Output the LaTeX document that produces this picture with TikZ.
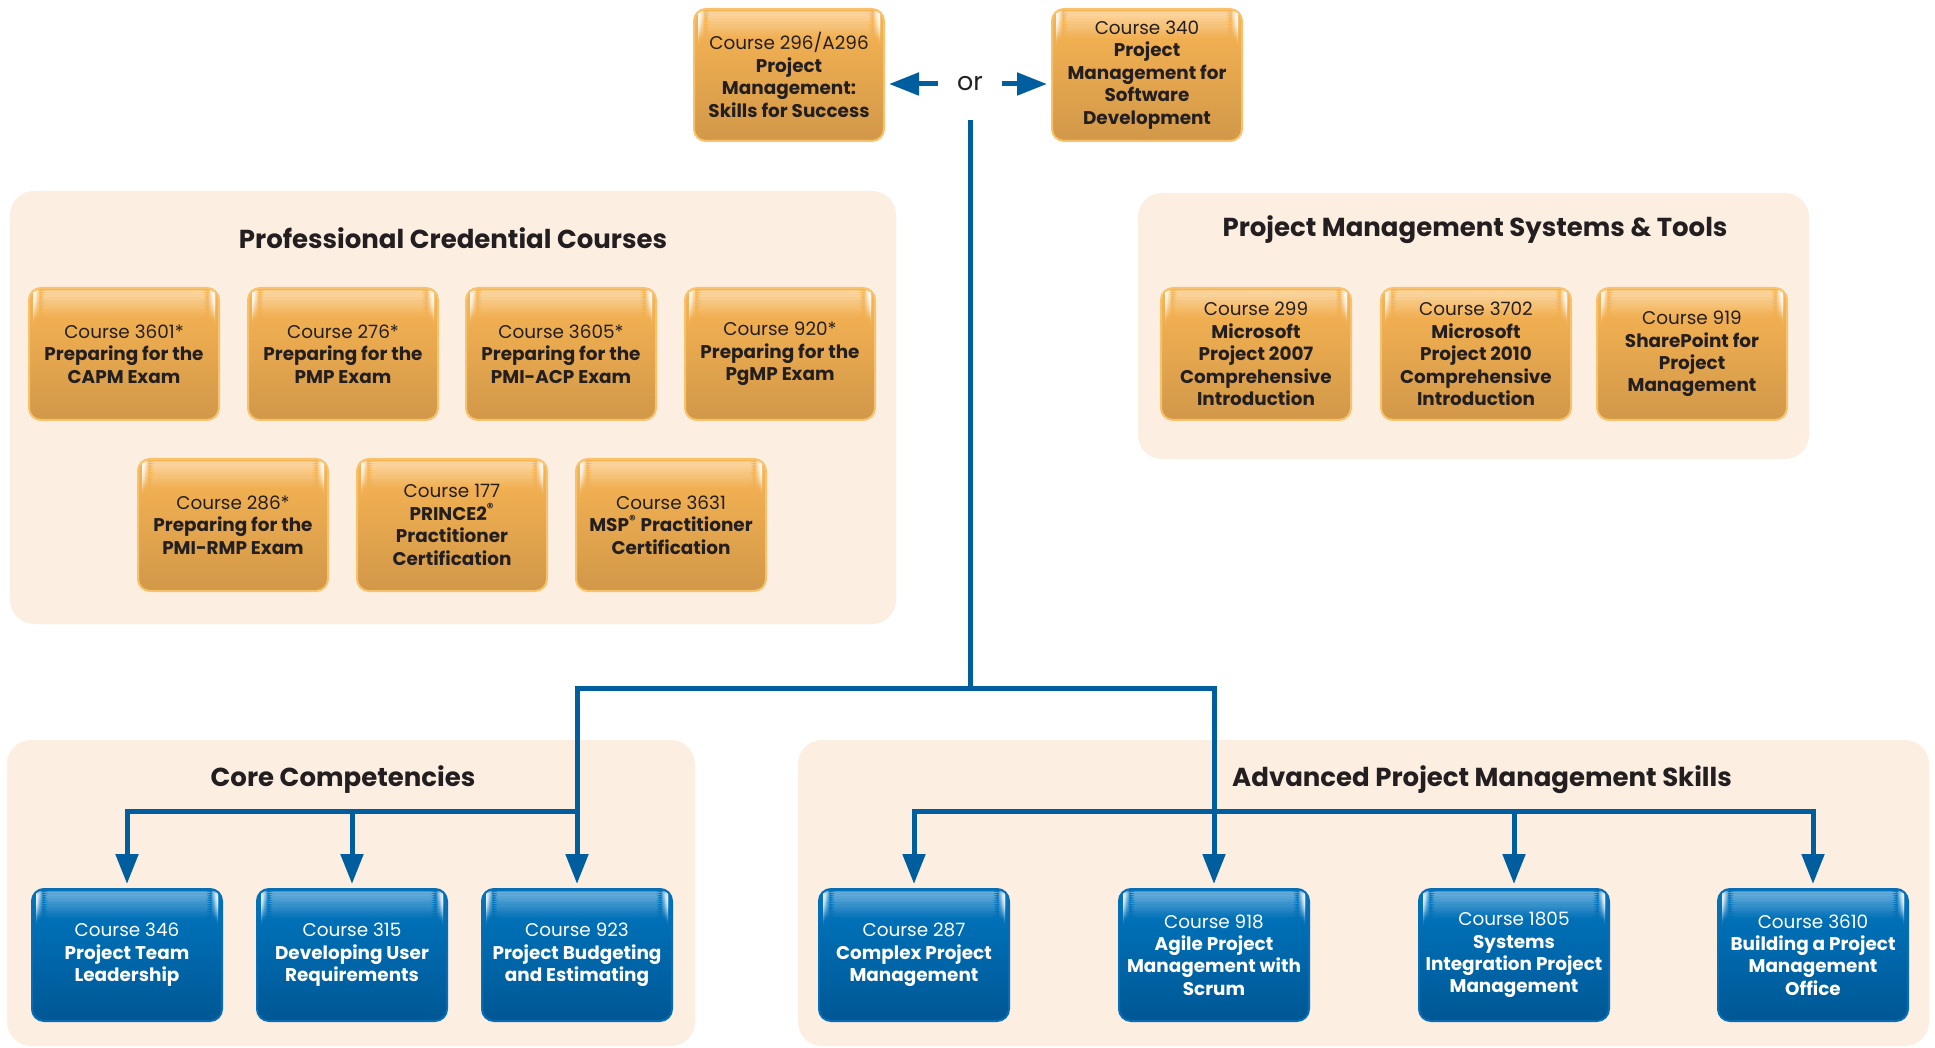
\documentclass[tikz,border=0pt]{standalone}
\usepackage{fontspec}
\setmainfont{Poppins}
\usetikzlibrary{arrows.meta}

\definecolor{panelbg}{HTML}{FCEFE2}
\definecolor{orangetop}{HTML}{F9B553}
\definecolor{orangebot}{HTML}{D19849}
\definecolor{orangerim}{HTML}{F8C26C}
\definecolor{bluetop}{HTML}{0077C1}
\definecolor{bluebot}{HTML}{005794}
\definecolor{bluerim}{HTML}{0A6DB3}
\definecolor{linkblue}{HTML}{005E9E}
\definecolor{textdark}{HTML}{231F20}

\newcommand{\crs}[2]{{\mdseries Course #1}\\#2}

\tikzset{
    gloss/.style={path picture={
        \foreach \i [evaluate=\i as \op using #1*(1-\i/12)] in {0,...,11}
            \fill[white, fill opacity=\op]
                ([xshift=2pt,yshift=-1.2pt-\i*1.1pt]path picture bounding box.north west) rectangle
                ([xshift=-2pt,yshift=-2.3pt-\i*1.1pt]path picture bounding box.north east);}},
    course/.style={rectangle, rounded corners=6pt, minimum width=95pt, minimum height=66pt,
        inner sep=2pt, align=center, line width=1pt, font=\fontsize{9.2}{11.2}\selectfont\bfseries},
    orangebox/.style={course, draw=orangerim, top color=orangetop, bottom color=orangebot,
        text=textdark, gloss=0.45},
    bluebox/.style={course, draw=bluerim, top color=bluetop, bottom color=bluebot,
        text=white, gloss=0.4},
    panel/.style={fill=panelbg, rounded corners=12pt},
    paneltitle/.style={text=textdark, font=\fontsize{13}{15}\selectfont\bfseries},
    link/.style={draw=linkblue, line width=2.5pt},
    feed/.style={link, -{Triangle[length=15pt,width=11pt]}, shorten >=2pt}
}

\begin{document}
\begin{tikzpicture}[x=0.5pt, y=-0.5pt]
            \useasboundingbox (0,0) rectangle (1935,1048);
            \fill[white] (0,0) rectangle (1935,1048);

            % panels
            \fill[panel] (10,191) rectangle (896,624);
            \fill[panel] (1138,193) rectangle (1809,459);
            \fill[panel] (7,740) rectangle (695,1046);
            \fill[panel] (798,740) rectangle (1929,1046);

            \node[paneltitle] (tpcc) at (453,238) {Professional Credential Courses};
            \node[paneltitle] (tpms) at (1475,230) {Project Management Systems \& Tools};
            \node[paneltitle] (tcore) at (343,780) {Core Competencies};
            \node[paneltitle] (tadv) at (1482,780) {Advanced Project Management Skills};

            % entry courses
            \node[orangebox] (c296) at (789,75) {\crs{296/A296}{Project\\Management:\\Skills for Success}};
            \node[orangebox] (c340) at (1147,75) {\crs{340}{Project\\Management for\\Software\\Development}};
            \node[text=textdark, inner xsep=9.5pt, font=\fontsize{12.7}{15}\selectfont] (or) at (970,84) {or};

            % credential courses
            \node[orangebox] (c3601) at (124,354) {\crs{3601*}{Preparing for the\\CAPM Exam}};
            \node[orangebox] (c276) at (343,354) {\crs{276*}{Preparing for the\\PMP Exam}};
            \node[orangebox] (c3605) at (561,354) {\crs{3605*}{Preparing for the\\PMI-ACP Exam}};
            \node[orangebox] (c920) at (780,354) {\crs{920*}{Preparing for the\\PgMP Exam}};
            \node[orangebox] (c286) at (233,525) {\crs{286*}{Preparing for the\\PMI-RMP Exam}};
            \node[orangebox] (c177) at (452,525) {\crs{177}{PRINCE2\textsuperscript{®}\\Practitioner\\Certification}};
            \node[orangebox] (c3631) at (671,525) {\crs{3631}{MSP\textsuperscript{®} Practitioner\\Certification}};

            % systems and tools
            \node[orangebox] (c299) at (1256,354) {\crs{299}{Microsoft\\Project 2007\\Comprehensive\\Introduction}};
            \node[orangebox] (c3702) at (1476,354) {\crs{3702}{Microsoft\\Project 2010\\Comprehensive\\Introduction}};
            \node[orangebox] (c919) at (1692,354) {\crs{919}{SharePoint for\\Project\\Management}};

            % core and advanced
            \node[bluebox] (c346) at (127,955) {\crs{346}{Project Team\\Leadership}};
            \node[bluebox] (c315) at (352,955) {\crs{315}{Developing User\\Requirements}};
            \node[bluebox] (c923) at (577,955) {\crs{923}{Project Budgeting\\and Estimating}};
            \node[bluebox] (c287) at (914,955) {\crs{287}{Complex Project\\Management}};
            \node[bluebox] (c918) at (1214,955) {\crs{918}{Agile Project\\Management with\\Scrum}};
            \node[bluebox] (c1805) at (1514,955) {\crs{1805}{Systems\\Integration Project\\Management}};
            \node[bluebox] (c3610) at (1813,955) {\crs{3610}{Building a Project\\Management\\Office}};

            \coordinate (split) at (970,688);
            \coordinate (bar) at (0,811);

            \draw[feed] (or.west) -- (or.west -| c296.east);
            \draw[feed] (or.east) -- (or.east -| c340.west);
            \draw[link, shorten <=18pt] (or.center) -- (split);
            \draw[feed] (split) -| (c923.north);
            \draw[feed] (split) -| (c918.north);
            \draw[feed] (c923 |- bar) -| (c346.north);
            \draw[feed] (c315 |- bar) -- (c315.north);
            \draw[feed] (c918 |- bar) -| (c287.north);
            \draw[feed] (c918 |- bar) -| (c3610.north);
            \draw[feed] (c1805 |- bar) -- (c1805.north);
        \end{tikzpicture}
\end{document}
